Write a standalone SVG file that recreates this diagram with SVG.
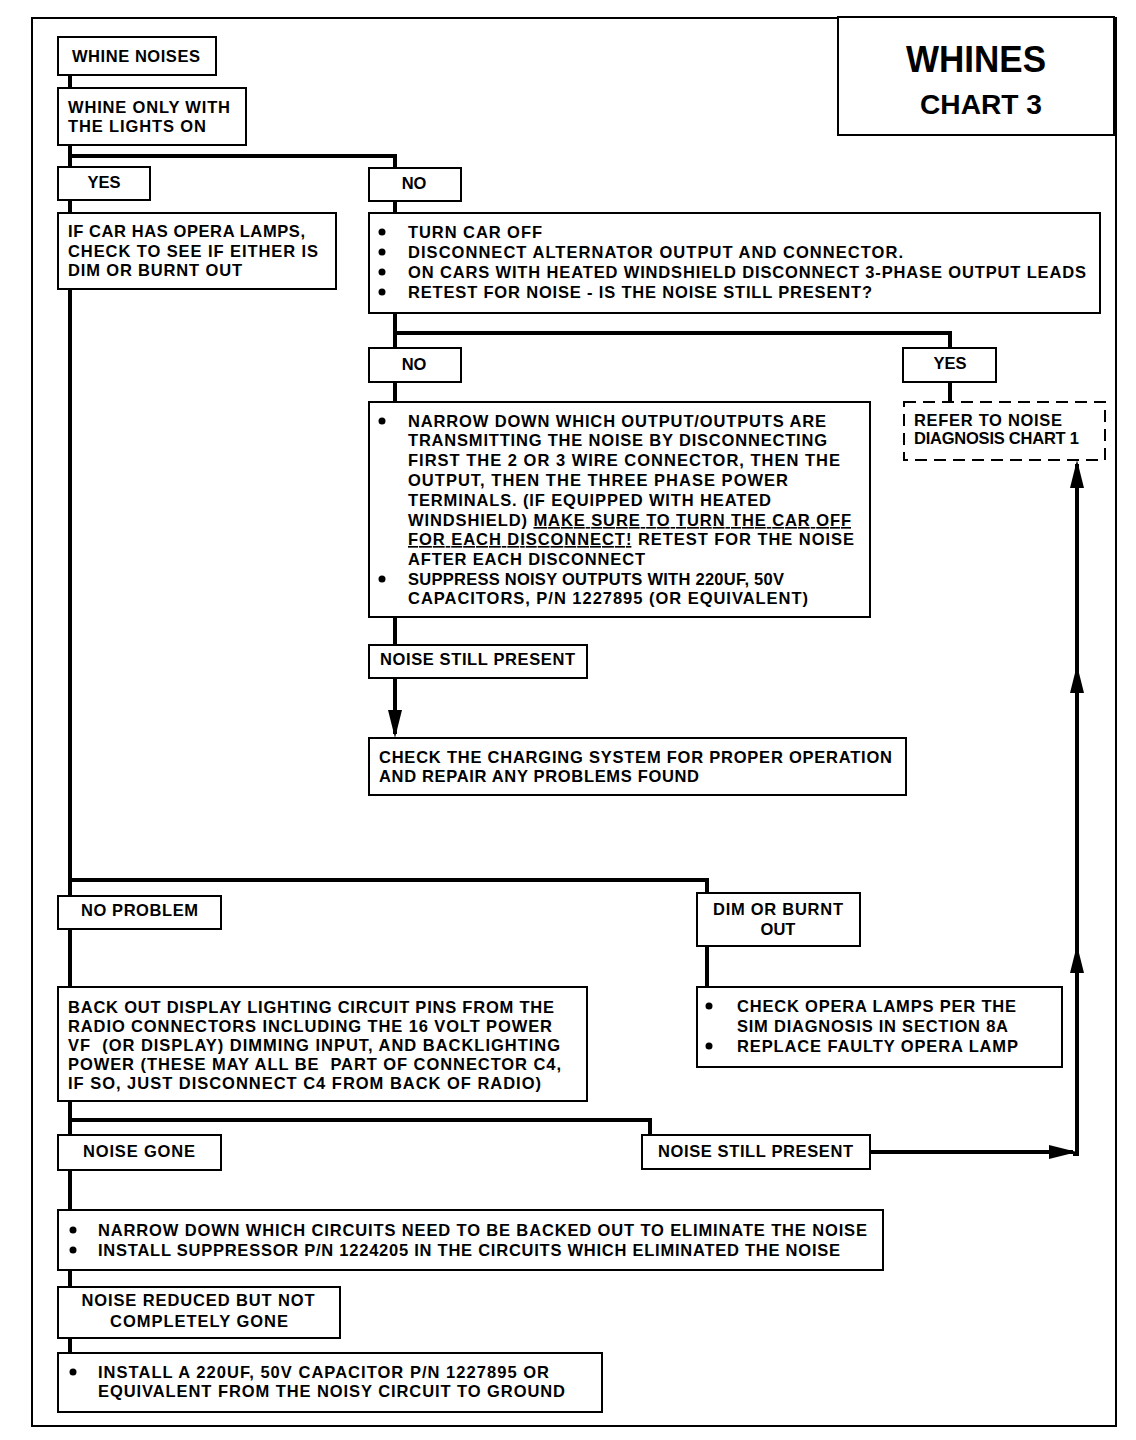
<svg xmlns="http://www.w3.org/2000/svg" width="1136" height="1440" viewBox="0 0 1136 1440">
<style>
.frame{fill:none;stroke:#000;stroke-width:2}
.box{fill:#fff;stroke:#000;stroke-width:2}
.dash{fill:#fff;stroke:#000;stroke-width:2;stroke-dasharray:12 7}
.c{fill:none;stroke:#000;stroke-width:4;stroke-linecap:square}
.a{fill:none;stroke:#000;stroke-width:4;marker-end:url(#arr)}
.t{font-family:"Liberation Sans",Arial,sans-serif;font-size:16.5px;font-weight:bold;fill:#000}
.m{text-anchor:middle}
.u{text-decoration:underline}
.b{fill:#000}
</style>
<defs>
<marker id="arr" markerUnits="userSpaceOnUse" markerWidth="28" markerHeight="16" viewBox="0 0 28 16" refX="24" refY="8" orient="auto">
<path d="M28,8 L0,1 L0,15 Z" fill="#000"/>
</marker>
</defs>
<rect class="frame" x="32" y="18" width="1084" height="1408"/>

<g id="connectors">
<path class="c" d="M70,75 V88"/>
<path class="c" d="M70,146 V167"/>
<path class="c" d="M70,156 H395 V168"/>
<path class="c" d="M70,200 V213"/>
<path class="c" d="M395,201 V213"/>
<path class="c" d="M70,290 V896"/>
<path class="c" d="M395,313 V348"/>
<path class="c" d="M395,333 H950 V348"/>
<path class="c" d="M395,382 V402"/>
<path class="c" d="M950,382 V402"/>
<path class="c" d="M395,617 V645"/>
<path class="a" d="M395,678 V734"/>
<path class="c" d="M70,880 H707 V893"/>
<path class="c" d="M707,946 V987"/>
<path class="c" d="M70,929 V987"/>
<path class="c" d="M70,1101 V1135"/>
<path class="c" d="M70,1120 H650 V1135"/>
<path class="c" d="M70,1170 V1210"/>
<path class="c" d="M70,1270 V1287"/>
<path class="c" d="M70,1338 V1353"/>
<path class="a" d="M870,1152 H1073"/>
<path class="c" d="M1077,1150 V1154 H1075"/>
<path class="a" d="M1077,1154 V949"/>
<path class="a" d="M1077,960 V669"/>
<path class="a" d="M1077,680 V464"/>
</g>

<g id="title">
<rect class="box" x="838" y="17" width="276" height="118"/>
<text class="t m" x="976" y="72" style="font-size:37px" textLength="140" lengthAdjust="spacingAndGlyphs">WHINES</text>
<text class="t m" x="981" y="114" style="font-size:27px" textLength="122" lengthAdjust="spacingAndGlyphs">CHART 3</text>
</g>

<g id="n-whine-noises">
<rect class="box" x="58" y="37" width="158" height="38"/>
<text class="t" x="72" y="62" textLength="128">WHINE NOISES</text>
</g>

<g id="n-lights-on">
<rect class="box" x="58" y="88" width="188" height="57"/>
<text class="t" x="68" y="113" textLength="162">WHINE ONLY WITH</text>
<text class="t" x="68" y="132" textLength="138">THE LIGHTS ON</text>
</g>

<g id="n-yes1">
<rect class="box" x="58" y="167" width="92" height="33"/>
<text class="t m" x="104" y="188">YES</text>
</g>

<g id="n-no1">
<rect class="box" x="369" y="168" width="92" height="33"/>
<text class="t m" x="414" y="189">NO</text>
</g>

<g id="n-opera-check">
<rect class="box" x="58" y="213" width="278" height="76"/>
<text class="t" x="68" y="237" textLength="237">IF CAR HAS OPERA LAMPS,</text>
<text class="t" x="68" y="257" textLength="250">CHECK TO SEE IF EITHER IS</text>
<text class="t" x="68" y="276" textLength="174">DIM OR BURNT OUT</text>
</g>

<g id="n-turn-off">
<rect class="box" x="369" y="213" width="731" height="100"/>
<circle class="b" cx="382" cy="232" r="3.5"/>
<circle class="b" cx="382" cy="252" r="3.5"/>
<circle class="b" cx="382" cy="272" r="3.5"/>
<circle class="b" cx="382" cy="292" r="3.5"/>
<text class="t" x="408" y="238" textLength="134">TURN CAR OFF</text>
<text class="t" x="408" y="258" textLength="495">DISCONNECT ALTERNATOR OUTPUT AND CONNECTOR.</text>
<text class="t" x="408" y="278" textLength="678">ON CARS WITH HEATED WINDSHIELD DISCONNECT 3-PHASE OUTPUT LEADS</text>
<text class="t" x="408" y="298" textLength="464">RETEST FOR NOISE - IS THE NOISE STILL PRESENT?</text>
</g>

<g id="n-no2">
<rect class="box" x="369" y="348" width="92" height="34"/>
<text class="t m" x="414" y="370">NO</text>
</g>

<g id="n-yes2">
<rect class="box" x="903" y="348" width="93" height="34"/>
<text class="t m" x="950" y="369">YES</text>
</g>

<g id="n-narrow-outputs">
<rect class="box" x="369" y="402" width="501" height="215"/>
<circle class="b" cx="382" cy="421" r="3.5"/>
<circle class="b" cx="382" cy="579" r="3.5"/>
<text class="t" x="408" y="427" textLength="418">NARROW DOWN WHICH OUTPUT/OUTPUTS ARE</text>
<text class="t" x="408" y="446" textLength="419">TRANSMITTING THE NOISE BY DISCONNECTING</text>
<text class="t" x="408" y="466" textLength="432">FIRST THE 2 OR 3 WIRE CONNECTOR, THEN THE</text>
<text class="t" x="408" y="486" textLength="380">OUTPUT, THEN THE THREE PHASE POWER</text>
<text class="t" x="408" y="506" textLength="363">TERMINALS. (IF EQUIPPED WITH HEATED</text>
<text class="t" x="408" y="526" textLength="443">WINDSHIELD) <tspan class="u">MAKE SURE TO TURN THE CAR OFF</tspan></text>
<text class="t" x="408" y="545" textLength="446"><tspan class="u">FOR EACH DISCONNECT!</tspan> RETEST FOR THE NOISE</text>
<text class="t" x="408" y="565" textLength="237">AFTER EACH DISCONNECT</text>
<text class="t" x="408" y="585" textLength="376">SUPPRESS NOISY OUTPUTS WITH 220UF, 50V</text>
<text class="t" x="408" y="604" textLength="400">CAPACITORS, P/N 1227895 (OR EQUIVALENT)</text>
</g>

<g id="n-refer-chart1">
<rect class="dash" x="904" y="402" width="201" height="58"/>
<text class="t" x="914" y="426" textLength="148">REFER TO NOISE</text>
<text class="t" x="914" y="444" textLength="165">DIAGNOSIS CHART 1</text>
</g>

<g id="n-still-present1">
<rect class="box" x="369" y="645" width="218" height="33"/>
<text class="t" x="380" y="665" textLength="195">NOISE STILL PRESENT</text>
</g>

<g id="n-charging">
<rect class="box" x="369" y="738" width="537" height="57"/>
<text class="t" x="379" y="763" textLength="513">CHECK THE CHARGING SYSTEM FOR PROPER OPERATION</text>
<text class="t" x="379" y="782" textLength="320">AND REPAIR ANY PROBLEMS FOUND</text>
</g>

<g id="n-no-problem">
<rect class="box" x="58" y="896" width="163" height="33"/>
<text class="t" x="81" y="916" textLength="117">NO PROBLEM</text>
</g>

<g id="n-dim-burnt">
<rect class="box" x="697" y="893" width="163" height="53"/>
<text class="t m" x="778" y="915" textLength="130">DIM OR BURNT</text>
<text class="t m" x="778" y="935">OUT</text>
</g>

<g id="n-back-out">
<rect class="box" x="58" y="987" width="529" height="114"/>
<text class="t" x="68" y="1013" textLength="486">BACK OUT DISPLAY LIGHTING CIRCUIT PINS FROM THE</text>
<text class="t" x="68" y="1032" textLength="484">RADIO CONNECTORS INCLUDING THE 16 VOLT POWER</text>
<text class="t" x="68" y="1051" textLength="492" xml:space="preserve">VF  (OR DISPLAY) DIMMING INPUT, AND BACKLIGHTING</text>
<text class="t" x="68" y="1070" textLength="493" xml:space="preserve">POWER (THESE MAY ALL BE  PART OF CONNECTOR C4,</text>
<text class="t" x="68" y="1089" textLength="473">IF SO, JUST DISCONNECT C4 FROM BACK OF RADIO)</text>
</g>

<g id="n-opera-replace">
<rect class="box" x="697" y="987" width="365" height="80"/>
<circle class="b" cx="709" cy="1006" r="3.5"/>
<circle class="b" cx="709" cy="1046" r="3.5"/>
<text class="t" x="737" y="1012" textLength="279">CHECK OPERA LAMPS PER THE</text>
<text class="t" x="737" y="1032" textLength="271">SIM DIAGNOSIS IN SECTION 8A</text>
<text class="t" x="737" y="1052" textLength="281">REPLACE FAULTY OPERA LAMP</text>
</g>

<g id="n-noise-gone">
<rect class="box" x="58" y="1135" width="163" height="35"/>
<text class="t" x="83" y="1157" textLength="112">NOISE GONE</text>
</g>

<g id="n-still-present2">
<rect class="box" x="642" y="1135" width="228" height="34"/>
<text class="t" x="658" y="1157" textLength="195">NOISE STILL PRESENT</text>
</g>

<g id="n-narrow-circuits">
<rect class="box" x="58" y="1210" width="825" height="60"/>
<circle class="b" cx="73" cy="1230" r="3.5"/>
<circle class="b" cx="73" cy="1250" r="3.5"/>
<text class="t" x="98" y="1236" textLength="769">NARROW DOWN WHICH CIRCUITS NEED TO BE BACKED OUT TO ELIMINATE THE NOISE</text>
<text class="t" x="98" y="1256" textLength="742">INSTALL SUPPRESSOR P/N 1224205 IN THE CIRCUITS WHICH ELIMINATED THE NOISE</text>
</g>

<g id="n-noise-reduced">
<rect class="box" x="58" y="1287" width="282" height="51"/>
<text class="t m" x="198" y="1306" textLength="233">NOISE REDUCED BUT NOT</text>
<text class="t m" x="199" y="1327" textLength="178">COMPLETELY GONE</text>
</g>

<g id="n-install-cap">
<rect class="box" x="58" y="1353" width="544" height="59"/>
<circle class="b" cx="73" cy="1372" r="3.5"/>
<text class="t" x="98" y="1378" textLength="451">INSTALL A 220UF, 50V CAPACITOR P/N 1227895 OR</text>
<text class="t" x="98" y="1397" textLength="467">EQUIVALENT FROM THE NOISY CIRCUIT TO GROUND</text>
</g>
</svg>
